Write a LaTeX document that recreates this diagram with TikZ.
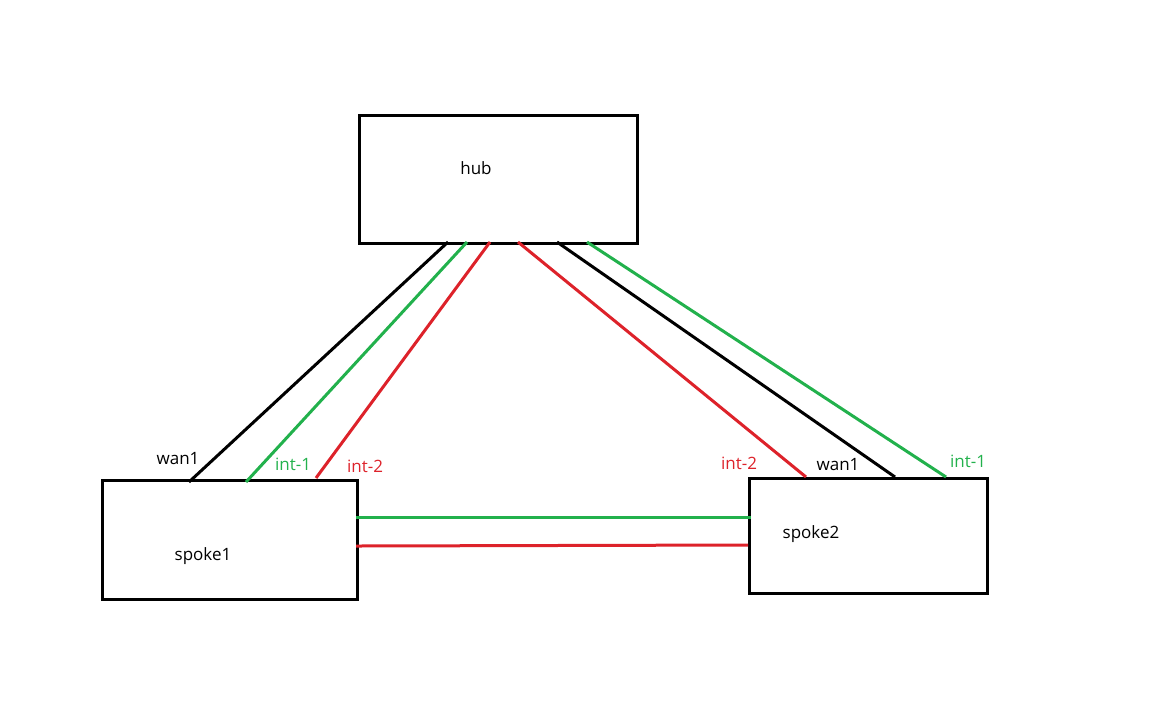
\documentclass[tikz,border=0pt]{standalone}
\usepackage{fontspec}
\setmainfont{Open Sans}
\usetikzlibrary{positioning}
\definecolor{lgreen}{RGB}{34,177,76}
\definecolor{lred}{RGB}{221,34,42}
\tikzset{
  box/.style={draw, line width=1.5pt, anchor=north west, inner sep=0pt},
  link/.style={line width=1.5pt},
  lbl/.style={font=\fontsize{8.5}{10}\selectfont, inner sep=0pt}
}
\begin{document}
\begin{tikzpicture}[x=0.5pt, y=-0.5pt]
\useasboundingbox (0,0) rectangle (1152,720);

% boxes
\node[box, minimum width=139pt, minimum height=64pt] (hub) at (358,114) {};
\node[box, minimum width=127.5pt, minimum height=59.5pt] (spoke1) at (101,479) {};
\node[box, minimum width=119pt, minimum height=57.5pt] (spoke2) at (748,477) {};

\node[lbl] (hubl) at (476,168) {hub};
\node[lbl] (s1l) at (203,556) {spoke1};
\node[lbl] (s2l) at (811,534) {spoke2};

% attachment points
\coordinate (h1) at (448,242);
\coordinate (h2) at (467,242);
\coordinate (h3) at (490,242);
\coordinate (h4) at (518,242);
\coordinate (h5) at (557,242);
\coordinate (h6) at (587,242);
\coordinate (a1) at (189,482);
\coordinate (a2) at (246,482);
\coordinate (a3) at (316,478);
\coordinate (b1) at (806,477);
\coordinate (b2) at (895,477);
\coordinate (b3) at (946,477);
\coordinate (c1) at (356,517);
\coordinate (c2) at (751,517);
\coordinate (d1) at (356,546);
\coordinate (d2) at (748,545);

% links
\draw[link] (h1) -- (a1);
\draw[link, lgreen] (h2) -- (a2);
\draw[link, lred] (h3) -- (a3);
\draw[link, lred] (h4) -- (b1);
\draw[link] (h5) -- (b2);
\draw[link, lgreen] (h6) -- (b3);
\draw[link, lgreen] (c1) -- (c2);
\draw[link, lred] (d1) -- (d2);

% port labels
\node[lbl] (w1) at (178,459) {wan1};
\node[lbl, text=lgreen] (i11) at (293,464) {int-1};
\node[lbl, text=lred] (i21) at (365,466) {int-2};
\node[lbl, text=lred] (i22) at (739,463) {int-2};
\node[lbl] (w2) at (838,464) {wan1};
\node[lbl, text=lgreen] (i12) at (968,461) {int-1};

\end{tikzpicture}
\end{document}
